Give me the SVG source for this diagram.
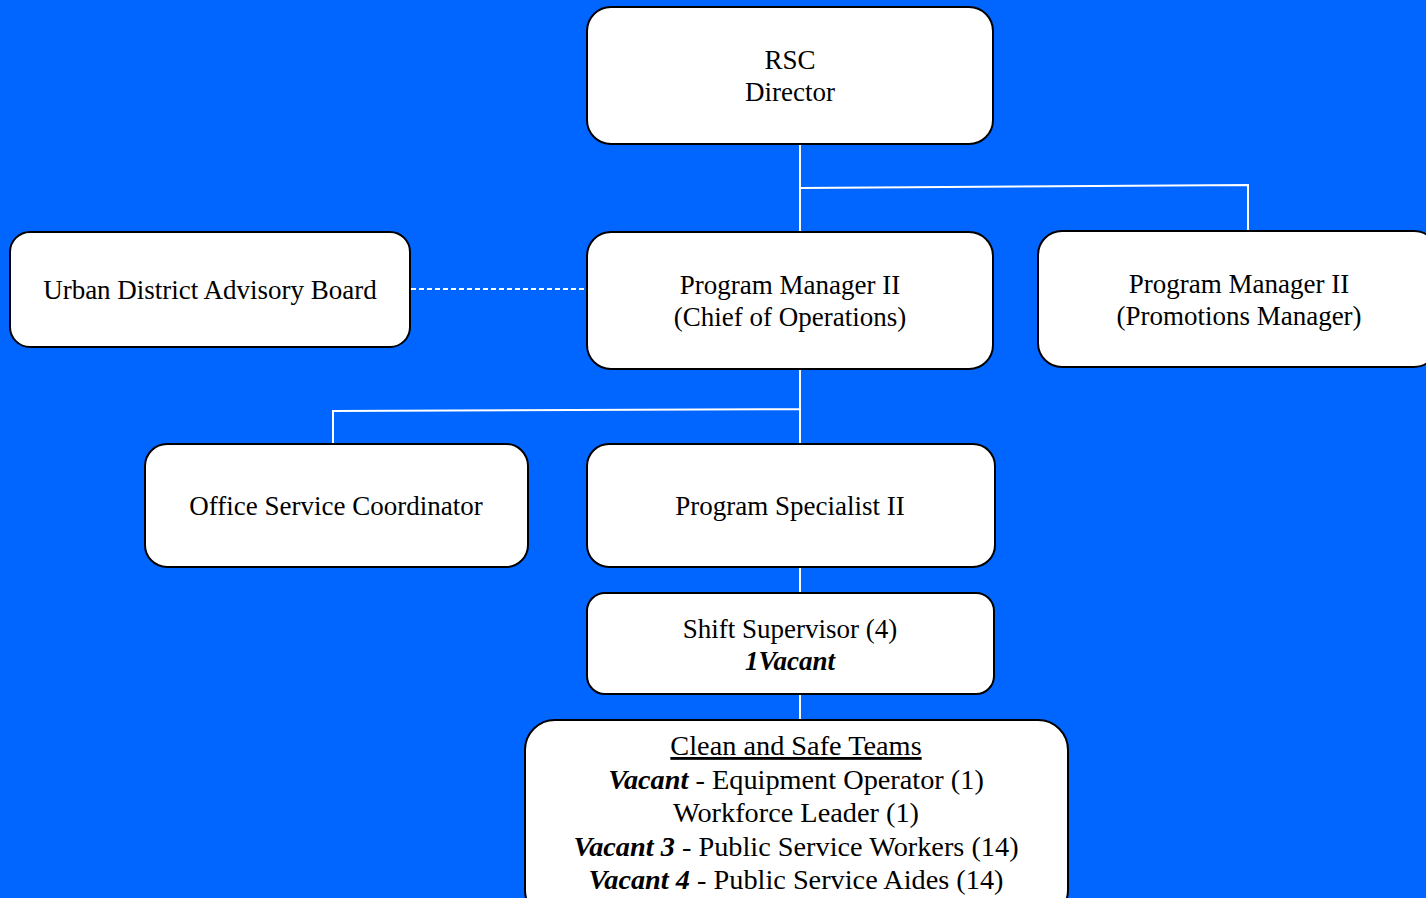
<svg xmlns="http://www.w3.org/2000/svg" width="1426" height="898" viewBox="0 0 1426 898">
<style>
.box{fill:#fff;stroke:#000;stroke-width:2}
.t{font-family:"Liberation Serif","Times New Roman",serif;font-size:27px;fill:#000;text-anchor:middle}
.big{font-size:28.3px}
.b{font-weight:bold;font-style:italic}
.c{stroke:#fff;stroke-width:2;fill:none}
</style>
<rect width="1426" height="898" fill="#0066FF"/>
<g id="connectors">
<path class="c" d="M800 144V232M800 188L1248 185V231"/>
<path class="c" d="M411 289H587" stroke-dasharray="5,3"/>
<path class="c" d="M800 369V444M333 444V411L800 409"/>
<path class="c" d="M800 567V593M800 694V720"/>
</g>
<g id="rsc-director">
<rect class="box" x="587" y="7" width="406" height="137" rx="24"/>
<text class="t" x="790" y="69">RSC</text>
<text class="t" x="790" y="101">Director</text>
</g>
<g id="advisory-board">
<rect class="box" x="10" y="232" width="400" height="115" rx="20"/>
<text class="t" x="210" y="299">Urban District Advisory Board</text>
</g>
<g id="chief-operations">
<rect class="box" x="587" y="232" width="406" height="137" rx="24"/>
<text class="t" x="790" y="294">Program Manager II</text>
<text class="t" x="790" y="326">(Chief of Operations)</text>
</g>
<g id="promotions-manager">
<rect class="box" x="1038" y="231" width="400" height="136" rx="24"/>
<text class="t" x="1239" y="293">Program Manager II</text>
<text class="t" x="1239" y="325">(Promotions Manager)</text>
</g>
<g id="office-service">
<rect class="box" x="145" y="444" width="383" height="123" rx="22"/>
<text class="t" x="336" y="515">Office Service Coordinator</text>
</g>
<g id="program-specialist">
<rect class="box" x="587" y="444" width="408" height="123" rx="22"/>
<text class="t" x="790" y="515">Program Specialist II</text>
</g>
<g id="shift-supervisor">
<rect class="box" x="587" y="593" width="407" height="101" rx="18"/>
<text class="t" x="790" y="638">Shift Supervisor (4)</text>
<text class="t b" x="790" y="670">1Vacant</text>
</g>
<g id="clean-safe">
<rect class="box" x="525" y="720" width="543" height="200" rx="30"/>
<text class="t big" x="796" y="755" text-decoration="underline">Clean and Safe Teams</text>
<text class="t big" x="796" y="789"><tspan class="b">Vacant</tspan> - Equipment Operator (1)</text>
<text class="t big" x="796" y="822">Workforce Leader (1)</text>
<text class="t big" x="796" y="856"><tspan class="b">Vacant 3</tspan> - Public Service Workers (14)</text>
<text class="t big" x="796" y="889"><tspan class="b">Vacant 4</tspan> - Public Service Aides (14)</text>
</g>
</svg>
